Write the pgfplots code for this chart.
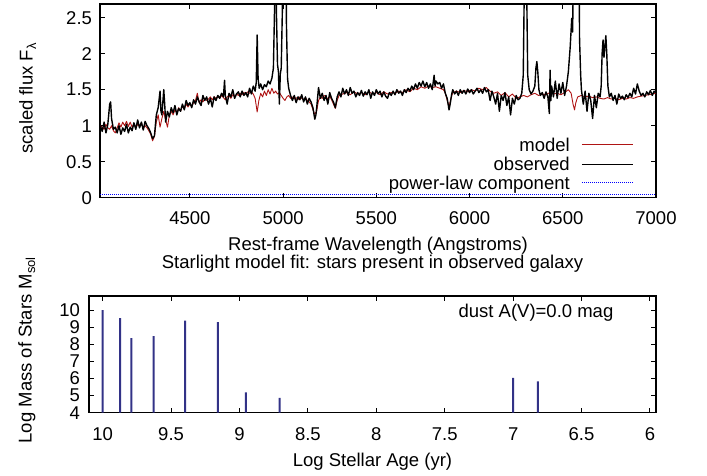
\documentclass[border=0pt]{standalone}
\usepackage{fontspec}
\setmainfont{Liberation Sans}
\usepackage{pgfplots}
\usepackage{pgfplotstable}
\pgfplotsset{compat=1.18}

\definecolor{modelred}{RGB}{175,20,20}
\definecolor{combblue}{RGB}{50,50,135}

% observed spectrum (rest-frame wavelength, scaled flux)
\pgfplotstableread{
lam f
4020 1.00
4030 0.92
4040 1.05
4050 0.90
4060 1.02
4070 1.30
4075 1.33
4080 1.10
4090 0.95
4100 0.98
4110 0.90
4120 1.00
4130 0.88
4140 0.97
4150 0.92
4160 1.02
4170 0.90
4180 0.98
4190 0.93
4200 1.04
4210 0.95
4220 1.08
4230 0.97
4240 1.05
4250 0.94
4260 1.06
4270 1.00
4280 0.96
4290 0.90
4300 0.82
4310 0.86
4320 1.15
4330 1.25
4340 1.48
4345 1.20
4350 1.15
4360 1.50
4365 1.30
4370 1.05
4380 1.20
4390 1.12
4400 1.25
4410 1.18
4420 1.28
4430 1.15
4440 1.24
4450 1.20
4460 1.30
4470 1.22
4480 1.35
4490 1.28
4500 1.32
4510 1.25
4520 1.36
4530 1.30
4540 1.40
4550 1.33
4560 1.28
4570 1.42
4580 1.35
4590 1.40
4600 1.30
4610 1.38
4620 1.26
4630 1.40
4640 1.35
4650 1.42
4660 1.38
4670 1.45
4680 1.40
4686 1.63
4690 1.42
4700 1.30
4710 1.45
4720 1.40
4730 1.50
4740 1.38
4750 1.44
4760 1.47
4770 1.40
4780 1.48
4790 1.42
4800 1.46
4810 1.40
4820 1.52
4830 1.44
4840 1.55
4850 1.48
4856 1.60
4861 2.26
4866 1.65
4872 1.52
4880 1.58
4890 1.50
4900 1.57
4910 1.54
4920 1.62
4930 1.58
4940 1.66
4948 1.80
4954 2.60
4959 5.0
4964 2.60
4970 1.85
4975 1.75
4980 1.30
4985 1.72
4990 1.80
4996 2.60
5002 6.0
5007 12.0
5012 6.0
5018 2.40
5024 1.65
5030 1.52
5040 1.42
5050 1.35
5060 1.42
5070 1.32
5080 1.40
5090 1.36
5100 1.43
5110 1.33
5120 1.40
5130 1.30
5140 1.38
5150 1.33
5160 1.25
5170 1.09
5176 1.15
5182 1.30
5190 1.53
5200 1.38
5210 1.45
5220 1.35
5230 1.42
5240 1.30
5250 1.46
5260 1.38
5270 1.33
5280 1.25
5290 1.40
5300 1.47
5310 1.40
5320 1.52
5330 1.44
5340 1.50
5350 1.42
5360 1.53
5370 1.45
5380 1.48
5390 1.40
5400 1.46
5410 1.42
5420 1.49
5430 1.41
5440 1.47
5450 1.43
5460 1.50
5470 1.38
5480 1.47
5490 1.42
5500 1.50
5510 1.44
5520 1.48
5530 1.40
5540 1.47
5550 1.41
5560 1.38
5570 1.46
5580 1.42
5590 1.48
5600 1.43
5610 1.50
5620 1.45
5630 1.48
5640 1.42
5650 1.50
5660 1.46
5670 1.52
5680 1.48
5690 1.55
5700 1.50
5710 1.58
5720 1.52
5730 1.60
5740 1.55
5750 1.62
5760 1.54
5770 1.60
5780 1.52
5790 1.58
5800 1.50
5810 1.70
5815 1.55
5820 1.62
5830 1.58
5840 1.60
5850 1.52
5860 1.58
5870 1.45
5880 1.38
5890 1.22
5896 1.30
5905 1.45
5910 1.50
5920 1.44
5930 1.48
5940 1.42
5950 1.50
5960 1.45
5970 1.49
5980 1.44
5990 1.51
6000 1.46
6010 1.50
6020 1.44
6030 1.48
6040 1.52
6050 1.46
6060 1.50
6070 1.45
6080 1.53
6090 1.47
6100 1.50
6110 1.35
6120 1.48
6130 1.40
6140 1.30
6150 1.45
6160 1.20
6170 1.42
6180 1.35
6190 1.46
6200 1.28
6210 1.40
6220 1.15
6230 1.38
6240 1.30
6250 1.42
6260 1.36
6270 1.38
6280 1.45
6288 1.70
6294 3.00
6300 6.0
6306 3.00
6312 1.70
6320 1.50
6330 1.44
6340 1.48
6350 1.55
6356 1.80
6361 1.89
6366 1.75
6372 1.50
6380 1.42
6390 1.46
6400 1.38
6410 1.47
6420 1.40
6428 1.17
6432 1.77
6436 1.35
6440 1.55
6450 1.40
6460 1.62
6470 1.38
6480 1.58
6490 1.45
6500 1.60
6510 1.42
6520 1.55
6530 1.75
6540 2.10
6548 2.49
6553 2.30
6558 3.50
6563 8.0
6570 3.00
6578 3.20
6583 5.00
6590 2.20
6596 1.70
6600 1.50
6610 1.30
6620 1.48
6630 1.20
6640 1.45
6650 1.35
6660 1.10
6670 1.42
6680 1.25
6690 1.45
6700 1.40
6706 1.55
6711 2.00
6716 2.19
6721 1.95
6726 2.10
6731 2.25
6736 2.00
6742 1.55
6750 1.40
6760 1.45
6770 1.35
6780 1.42
6790 1.30
6800 1.44
6810 1.38
6820 1.41
6830 1.36
6840 1.43
6850 1.39
6860 1.45
6870 1.40
6880 1.52
6890 1.44
6900 1.58
6910 1.48
6920 1.42
6930 1.45
6940 1.40
6950 1.47
6960 1.43
6970 1.49
6980 1.42
6990 1.48
7000 1.45
}\observed

% best-fit stellar population model
\pgfplotstableread{
lam f
4020 1.00
4030 0.98
4040 0.95
4050 1.02
4060 0.97
4070 0.95
4080 1.00
4090 0.93
4100 0.90
4110 0.97
4120 1.04
4130 0.98
4140 1.05
4150 1.00
4160 1.06
4170 0.99
4180 1.05
4190 0.98
4200 1.03
4210 0.97
4220 1.02
4230 0.99
4240 1.04
4250 0.96
4260 1.00
4270 0.97
4280 0.93
4290 0.88
4300 0.79
4310 0.85
4320 1.05
4330 1.15
4340 0.98
4350 1.10
4360 1.20
4370 1.08
4380 0.98
4390 1.15
4400 1.20
4410 1.15
4420 1.22
4430 1.18
4440 1.25
4450 1.20
4460 1.27
4470 1.23
4480 1.30
4490 1.26
4500 1.30
4510 1.27
4520 1.32
4530 1.35
4540 1.45
4550 1.32
4560 1.36
4570 1.33
4580 1.38
4590 1.35
4600 1.37
4610 1.40
4620 1.36
4630 1.40
4640 1.38
4650 1.41
4660 1.38
4670 1.42
4680 1.39
4690 1.36
4700 1.40
4710 1.42
4720 1.38
4730 1.43
4740 1.40
4750 1.44
4760 1.42
4770 1.45
4780 1.43
4790 1.46
4800 1.44
4810 1.47
4820 1.45
4830 1.47
4840 1.44
4850 1.38
4861 1.19
4870 1.35
4880 1.45
4890 1.40
4900 1.48
4910 1.42
4920 1.50
4930 1.44
4940 1.52
4950 1.45
4960 1.48
4970 1.44
4980 1.46
4990 1.42
5000 1.38
5010 1.35
5020 1.40
5030 1.42
5040 1.38
5050 1.40
5060 1.37
5070 1.39
5080 1.36
5090 1.40
5100 1.38
5110 1.36
5120 1.39
5130 1.35
5140 1.33
5150 1.30
5160 1.22
5170 1.16
5180 1.20
5190 1.35
5200 1.40
5210 1.38
5220 1.42
5230 1.40
5240 1.37
5250 1.41
5260 1.36
5270 1.30
5280 1.24
5290 1.35
5300 1.42
5320 1.44
5340 1.46
5360 1.43
5380 1.47
5400 1.44
5420 1.46
5440 1.43
5460 1.47
5480 1.44
5500 1.46
5520 1.43
5540 1.47
5560 1.44
5580 1.46
5600 1.45
5620 1.48
5640 1.46
5660 1.50
5680 1.47
5700 1.52
5720 1.50
5740 1.54
5760 1.52
5780 1.55
5800 1.53
5820 1.54
5840 1.52
5860 1.50
5870 1.45
5880 1.35
5890 1.26
5900 1.38
5910 1.46
5930 1.48
5950 1.46
5970 1.49
5990 1.47
6010 1.50
6030 1.48
6050 1.52
6070 1.50
6090 1.53
6110 1.48
6130 1.45
6150 1.47
6170 1.42
6190 1.46
6210 1.40
6230 1.44
6250 1.38
6270 1.40
6290 1.42
6310 1.40
6330 1.43
6350 1.45
6370 1.42
6390 1.44
6410 1.43
6430 1.46
6450 1.44
6470 1.45
6490 1.43
6510 1.46
6530 1.50
6545 1.45
6555 1.30
6563 1.22
6570 1.32
6580 1.40
6600 1.42
6620 1.40
6640 1.41
6660 1.39
6680 1.40
6700 1.38
6720 1.37
6740 1.39
6760 1.37
6780 1.38
6800 1.36
6820 1.38
6840 1.37
6860 1.39
6880 1.38
6900 1.40
6920 1.41
6940 1.42
6960 1.43
6980 1.44
7000 1.45
}\model

% stellar populations: log age, log mass
\pgfplotstableread{
age mass
10.000 10.00
9.873 9.53
9.790 8.36
9.627 8.48
9.398 9.38
9.158 9.30
8.953 5.19
8.707 4.87
7.000 6.04
6.820 5.83
}\populations

\newcommand{\chartfont}{\fontsize{18.5}{22}\selectfont}

\pgfplotsset{
  every axis/.append style={
    scale only axis,
    font=\chartfont,
    /pgf/number format/assume math mode=true,
    /pgf/number format/1000 sep={},
    scaled ticks=false,
    tick align=inside,
    major tick length=5pt,
    axis line style={line width=1.1pt},
    every tick/.style={black, line width=1pt},
    xticklabel style={anchor=base},
    tick label style={font=\chartfont},
  },
}

\begin{document}
\begin{tikzpicture}[font=\chartfont]
\path[use as bounding box] (0pt,0pt) rectangle (707pt,-476pt);

% upper panel: spectrum and fit
\begin{axis}[
  at={(100pt,-197.7pt)}, anchor=south west,
  width=556pt, height=193.7pt,
  xmin=4018, xmax=7000, ymin=0, ymax=2.69,
  xtick={4500,5000,5500,6000,6500,7000},
  ytick={0,0.5,1,1.5,2,2.5},
  xticklabel shift=26.3pt,
  yticklabel shift=4.5pt,
  xlabel={Rest-frame Wavelength (Angstroms)},
  ylabel={scaled flux F\textsubscript{λ}},
  xlabel style={at={(axis description cs:0.5,-0.273)}, anchor=base, inner sep=0pt},
  ylabel style={at={(axis description cs:-0.121,0.513)}, anchor=base, inner sep=0pt},
]
\addplot[modelred, line width=0.9pt, line join=round] table[x=lam, y=f] {\model};
\addplot[black, line width=1.4pt, line join=round] table[x=lam, y=f] {\observed};
\addplot[blue, densely dotted, line width=1pt] coordinates {(4018,0.04) (7000,0.04)};
% key: label on the left, line sample on the right
\draw[modelred, line width=1pt] (axis description cs:0.8669,0.2736) -- (axis description cs:0.9586,0.2736);
\draw[black, line width=1.2pt] (axis description cs:0.8669,0.1724) -- (axis description cs:0.9586,0.1724);
\draw[blue, densely dotted, line width=1pt] (axis description cs:0.8669,0.0774) -- (axis description cs:0.9586,0.0774);
\node[anchor=base east, inner sep=0pt] at (axis description cs:0.8453,0.2385) {model};
\node[anchor=base east, inner sep=0pt] at (axis description cs:0.8453,0.1394) {observed};
\node[anchor=base east, inner sep=0pt] at (axis description cs:0.8453,0.0449) {power-law component};
\end{axis}

% lower panel: stellar populations
\begin{axis}[
  at={(89pt,-412.7pt)}, anchor=south west,
  width=567pt, height=116.7pt,
  x dir=reverse,
  xmin=5.956, xmax=10.1, ymin=4, ymax=10.82,
  xtick={6,6.5,7,7.5,8,8.5,9,9.5,10},
  ytick={4,5,6,7,8,9,10},
  xticklabel shift=27.3pt,
  yticklabel shift=5.5pt,
  xlabel={Log Stellar Age (yr)},
  ylabel={Log Mass of Stars M\textsubscript{sol}},
  title={Starlight model fit: stars present in observed galaxy},
  xlabel style={at={(axis description cs:0.5,-0.4627)}, anchor=base, inner sep=0pt},
  ylabel style={at={(axis description cs:-0.101,0.537)}, anchor=base, inner sep=0pt},
  title style={at={(axis description cs:0.5,1.1842)}, anchor=base, inner sep=0pt},
]
\addplot[ybar, bar width=2pt, fill=combblue, draw=none] table[x=age, y=mass] {\populations};
\node[anchor=base east] at (axis description cs:0.931,0.8175) {dust A(V)=0.0 mag};
\end{axis}
\end{tikzpicture}
\end{document}
